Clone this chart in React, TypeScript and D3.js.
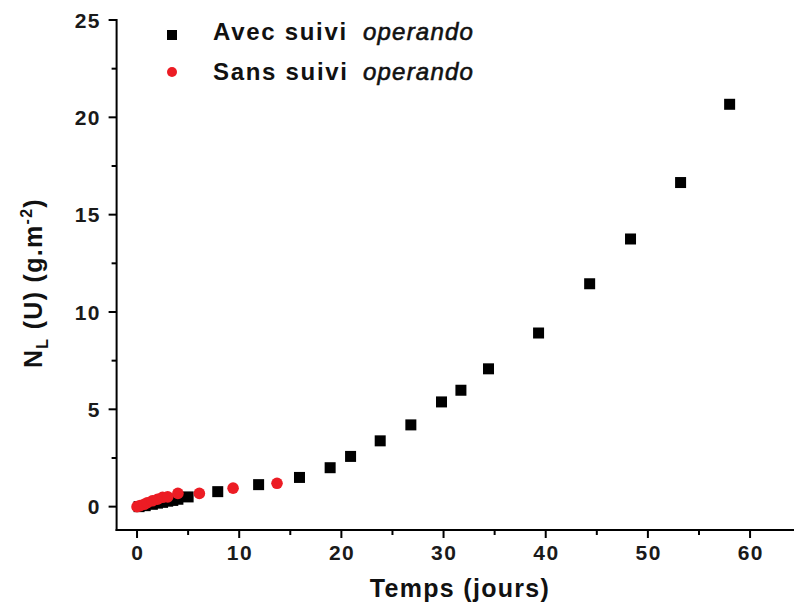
import React from "react";
import * as d3 from "d3";

const avecX = [0.2, 0.8, 1.5, 2.0, 2.5, 3.0, 3.5, 4.0, 5.0, 7.9, 11.9, 15.9, 18.9, 20.9, 23.8, 26.8, 29.8, 31.7, 34.4, 39.3, 44.3, 48.3, 53.2, 58.0];
const avecY = [0.0, 0.05, 0.12, 0.18, 0.22, 0.28, 0.32, 0.38, 0.5, 0.77, 1.13, 1.5, 2.0, 2.58, 3.38, 4.2, 5.38, 5.98, 7.08, 8.92, 11.45, 13.75, 16.65, 20.67];
const sansX = [0.0, 0.3, 0.7, 1.0, 1.5, 2.0, 2.5, 3.0, 4.0, 6.1, 9.4, 13.7];
const sansY = [0.0, 0.05, 0.12, 0.2, 0.3, 0.38, 0.48, 0.5, 0.68, 0.68, 0.95, 1.2];
const xMajor = [0, 10, 20, 30, 40, 50, 60];
const xMinor = [5, 15, 25, 35, 45, 55];
const yMajor = [0, 5, 10, 15, 20, 25];
const yMinor = [2.5, 7.5, 12.5, 17.5, 22.5];
const legendLabels = ["Avec suivi", "Sans suivi"];
const legendItalic = "operando";

const W = 794;
const H = 606;
const FONT = "'Liberation Sans', Arial, sans-serif";

export default function App() {
  const x = d3.scaleLinear().domain([-2, 64.3]).range([116.6, 794]);
  const y = d3.scaleLinear().domain([-1.2, 25]).range([530, 20]);
  const x0 = x.range()[0];
  const y0 = y.range()[0];
  const avec = avecX.map((v, i) => [v, avecY[i]]);
  const sans = sansX.map((v, i) => [v, sansY[i]]);
  const sq = 11;
  return (
    <svg width={W} height={H} style={{ position: "absolute", left: 0, top: 0, background: "#fff" }} fontFamily={FONT}>
      <rect x={0} y={0} width={W} height={H} fill="#fff" />
      {/* axes */}
      <line x1={x0} x2={x0} y1={y(25) - 1} y2={y0 + 1} stroke="#000" strokeWidth={2} />
      <line x1={x0 - 1} x2={W} y1={y0} y2={y0} stroke="#000" strokeWidth={2} />
      {yMajor.map((v) => (
        <g key={"ym" + v}>
          <line x1={x0 - 8} x2={x0} y1={y(v)} y2={y(v)} stroke="#000" strokeWidth={2} />
          <text x={101} y={y(v)} dy="0.36em" textAnchor="end" fontSize={21} fontWeight="bold" letterSpacing={1.5} fill="#1a1a1a">{v}</text>
        </g>
      ))}
      {yMinor.map((v) => (
        <line key={"yn" + v} x1={x0 - 5} x2={x0} y1={y(v)} y2={y(v)} stroke="#000" strokeWidth={2} />
      ))}
      {xMajor.map((v) => (
        <g key={"xm" + v}>
          <line x1={x(v)} x2={x(v)} y1={y0} y2={y0 + 8} stroke="#000" strokeWidth={2} />
          <text x={x(v) + 0.75} y={552} dy="0.36em" textAnchor="middle" fontSize={21} fontWeight="bold" letterSpacing={1.5} fill="#1a1a1a">{v}</text>
        </g>
      ))}
      {xMinor.map((v) => (
        <line key={"xn" + v} x1={x(v)} x2={x(v)} y1={y0} y2={y0 + 5} stroke="#000" strokeWidth={2} />
      ))}
      {/* titles */}
      <text x={460} y={597} textAnchor="middle" fontSize={25} fontWeight="bold" letterSpacing={1.3} fill="#111">Temps (jours)</text>
      <text transform="translate(42,283) rotate(-90)" textAnchor="middle" fontSize={25} fontWeight="bold" letterSpacing={1.3} fill="#111">
        N<tspan fontSize={16} dy={6}>L</tspan><tspan dy={-6}> (U) (g.m</tspan><tspan fontSize={16} dy={-10}>-2</tspan><tspan dy={10}>)</tspan>
      </text>
      {/* data */}
      {avec.map((d, i) => (
        <rect key={"a" + i} x={x(d[0]) - sq / 2} y={y(d[1]) - sq / 2} width={sq} height={sq} fill="#000" />
      ))}
      {sans.map((d, i) => (
        <circle key={"s" + i} cx={x(d[0])} cy={y(d[1])} r={5.8} fill="#ec1c24" />
      ))}
      {/* legend */}
      <rect x={172 - 5} y={35 - 5} width={10} height={10} fill="#000" />
      <circle cx={172} cy={72} r={5} fill="#ec1c24" />
      {legendLabels.map((l, i) => (
        <text key={"l" + i} x={213} y={40 + i * 40} fontSize={24} fill="#111" letterSpacing={1.7}>
          <tspan fontWeight="bold">{l}</tspan>
          <tspan x={363} fontStyle="italic" letterSpacing={1.2} stroke="#111" strokeWidth={0.6}>{legendItalic}</tspan>
        </text>
      ))}
    </svg>
  );
}
